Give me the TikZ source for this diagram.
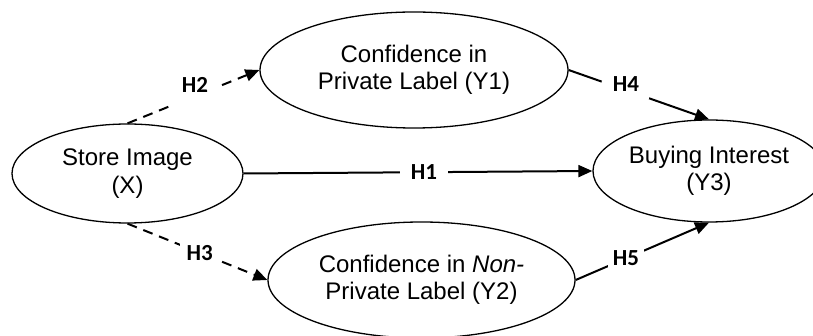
\documentclass[tikz,border=0pt]{standalone}
\usepackage{fontspec}
\setmainfont{Liberation Sans}
\newfontfamily\hfont{Carlito}
\usetikzlibrary{shapes.geometric,arrows.meta}
\begin{document}
\begin{tikzpicture}[x=1pt,y=-1pt,
  var/.style={ellipse, draw, line width=1.3pt, inner sep=0pt, align=center,
    font=\fontsize{24}{27.5}\selectfont},
  link/.style={line width=2pt, -{Triangle[length=14pt,width=12pt]}},
  dlink/.style={link, dash pattern=on 10pt off 7pt},
  hlab/.style={font=\hfont\bfseries\fontsize{23}{24}\selectfont, inner sep=0pt},
  hgap/.style={hlab, fill=white, minimum height=14pt},
  gapbox/.style={fill=white, sloped, inner sep=0pt, minimum height=7pt}]
\useasboundingbox (0,0) rectangle (813,336);
\clip (0,0) rectangle (813,336);
\node[var, minimum width=231pt, minimum height=99pt] (S) at (127.5,173.5) {Store Image\\(X)};
\node[var, minimum width=308pt, minimum height=116pt] (Y1) at (414,70) {Confidence in\\Private Label (Y1)};
\node[var, minimum width=307pt, minimum height=116pt] (Y2) at (421.5,280) {Confidence in \textit{Non-}\\Private Label (Y2)};
\node[var, minimum width=232pt, minimum height=102pt] (Y3) at (709,171) {Buying Interest\\(Y3)};
% H1
\draw[link] (S.east) -- node[hgap, pos=0.517, minimum width=48pt] (h1) {H1} (Y3.west);
% H2
\draw[dlink] (S.north) -- node[gapbox, pos=0.506, minimum width=52pt] (g2) {} (Y1.west);
\node[hlab] (h2) at (195,85) {H2};
% H3
\draw[dlink] (S.south) -- node[hgap, pos=0.516, minimum width=40pt, minimum height=24pt] (h3) {H3} (Y2.west);
% H4
\draw[link] (Y1.east) -- node[gapbox, pos=0.404, minimum width=50pt] (g4) {} (Y3.north);
\node[hlab] (h4) at (626,84) {H4};
% H5
\draw[link] (Y2.east) -- node[hgap, pos=0.377, minimum width=36pt, minimum height=22pt] (h5) {H5} (Y3.south);
\end{tikzpicture}
\end{document}
